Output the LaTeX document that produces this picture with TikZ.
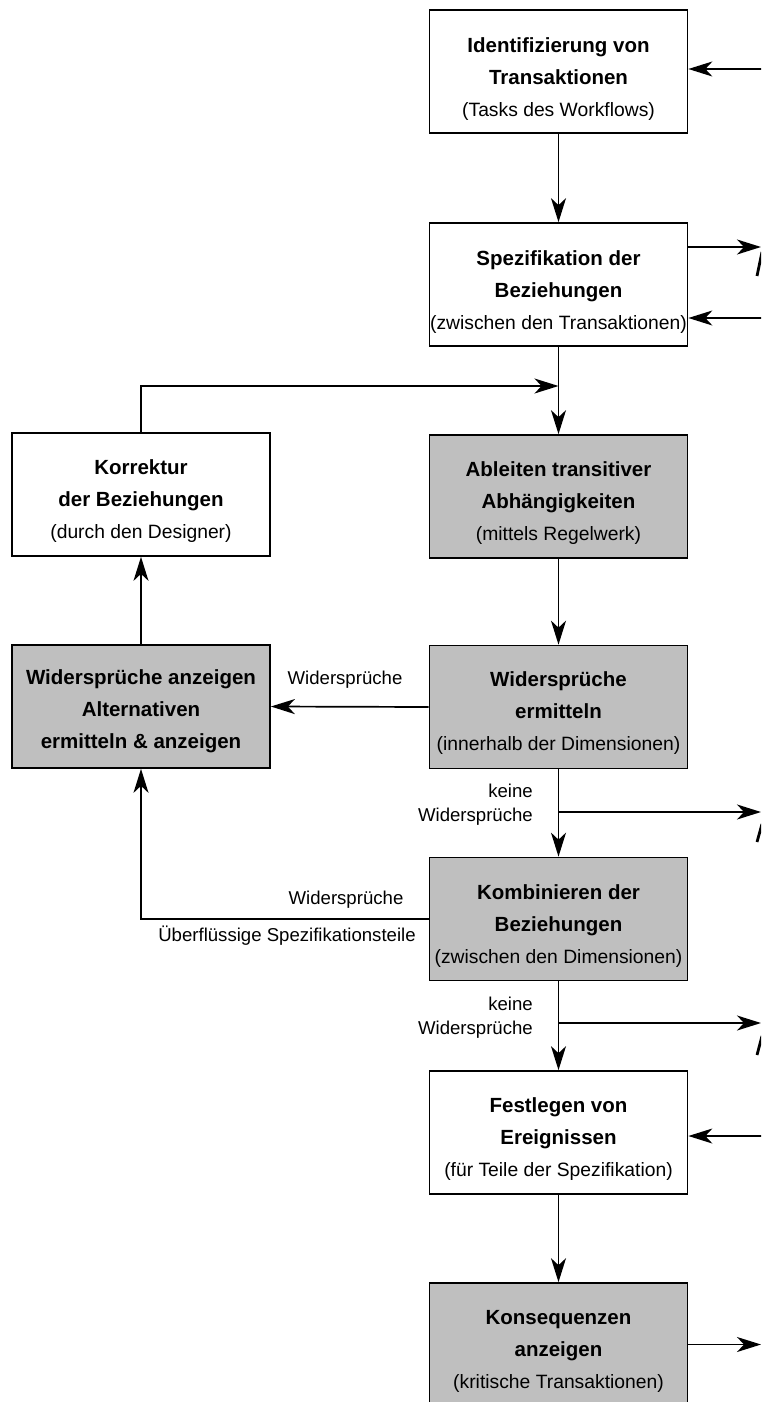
\documentclass[tikz,border=0pt]{standalone}
\usepackage{fontspec}
\setmainfont{Liberation Sans}
\usetikzlibrary{arrows.meta}
\newcommand{\subline}[1]{{\fontsize{19.3}{32}\selectfont\mdseries #1}}
\begin{document}
\begin{tikzpicture}[x=1pt,y=-1pt,
  box/.style={draw, line width=1.7pt, minimum width=258pt, minimum height=123pt, inner sep=0pt},
  shadebox/.style={box, fill=black!25},
  txt/.style={align=center, font=\fontsize{20.5}{32}\selectfont\bfseries},
  lbl/.style={font=\fontsize{18.6}{24}\selectfont, inner sep=0pt},
  conn/.style={line width=1.7pt},
  arr/.style={conn, -{Stealth[length=24pt,width=15pt,inset=7pt]}},
  frag/.style={line width=2.8pt}]
\clip (0,0) rectangle (761,1402);
\fill[white] (0,0) rectangle (761,1402);

% boxes
\node[box] (b1) at (558.5,71.5) {};
\node[box] (b2) at (558.5,284.5) {};
\node[shadebox] (b3) at (558.5,496.5) {};
\node[box] (k) at (141,494.5) {};
\node[shadebox] (b4) at (558.5,707) {};
\node[shadebox] (w) at (141,706.5) {};
\node[shadebox] (b5) at (558.5,919) {};
\node[box] (b6) at (558.5,1132.5) {};
\node[shadebox] (b7) at (558.5,1344.5) {};

% texts
\node[txt, yshift=-8pt] (t1) at (b1) {Identifizierung von\\Transaktionen\\\subline{(Tasks des Workflows)}};
\node[txt, yshift=-8pt] (t2) at (b2) {Spezifikation der\\Beziehungen\\\subline{(zwischen den Transaktionen)}};
\node[txt, yshift=-7pt] (t3) at (b3) {Ableiten transitiver\\Abhängigkeiten\\\subline{(mittels Regelwerk)}};
\node[txt, yshift=-7pt] (tk) at (k) {Korrektur\\der Beziehungen\\\subline{(durch den Designer)}};
\node[txt, yshift=-6pt] (t4) at (b4) {Widersprüche\\ermitteln\\\subline{(innerhalb der Dimensionen)}};
\node[txt, yshift=-5pt] (tw) at (w) {Widersprüche anzeigen\\Alternativen\\ermitteln \& anzeigen};
\node[txt, yshift=-7pt] (t5) at (b5) {Kombinieren der\\Beziehungen\\\subline{(zwischen den Dimensionen)}};
\node[txt, yshift=-7pt] (t6) at (b6) {Festlegen von\\Ereignissen\\\subline{(für Teile der Spezifikation)}};
\node[txt, yshift=-7pt] (t7) at (b7) {Konsequenzen\\anzeigen\\\subline{(kritische Transaktionen)}};

% labels
\node[lbl] (l1) at (345,680) {Widersprüche};
\node[lbl, align=right, anchor=east] (l2) at (533,805) {keine\\Widersprüche};
\node[lbl] (l3) at (346,900) {Widersprüche};
\node[lbl] (l4) at (287,936) {Überflüssige Spezifikationsteile};
\node[lbl, align=right, anchor=east] (l5) at (533,1018) {keine\\Widersprüche};

% coordinates
\coordinate (e1) at (775,69);
\coordinate (e2) at (761,247);
\coordinate (e3) at (775,318);
\coordinate (j1) at (558.5,386);
\coordinate (j2) at (558.5,812);
\coordinate (e4) at (761,812);
\coordinate (j4) at (558.5,1023);
\coordinate (e5) at (761,1023);
\coordinate (e6) at (775,1136);
\coordinate (e7) at (761,1344.5);

% connectors
\draw[arr] (e1) -- (e1 -| b1.east);
\draw[arr] (b1.south) -- (b2.north);
\draw[arr] (e2 -| b2.east) -- (e2);
\draw[arr] (e3) -- (e3 -| b2.east);
\draw[arr] (b2.south) -- (b3.north);
\draw[arr] (k.north) |- (j1);
\draw[arr] (b3.south) -- (b4.north);
\draw[arr] (b4.west) -- (w.east);
\draw[arr] (w.north) -- (k.south);
\draw[arr] (b4.south) -- (b5.north);
\draw[arr] (j2) -- (e4);
\draw[arr] (b5.west) -| (w.south);
\draw[arr] (b5.south) -- (b6.north);
\draw[arr] (j4) -- (e5);
\draw[arr] (e6) -- (e6 -| b6.east);
\draw[arr] (b6.south) -- (b7.north);
\draw[arr] (b7.east) -- (e7);

% cut-off fragments at the right edge
\draw[frag] (757,276) -- (762,252);
\draw[frag] (757,842) -- (762,824);
\draw[frag] (757,1055) -- (762,1036);
\end{tikzpicture}
\end{document}
